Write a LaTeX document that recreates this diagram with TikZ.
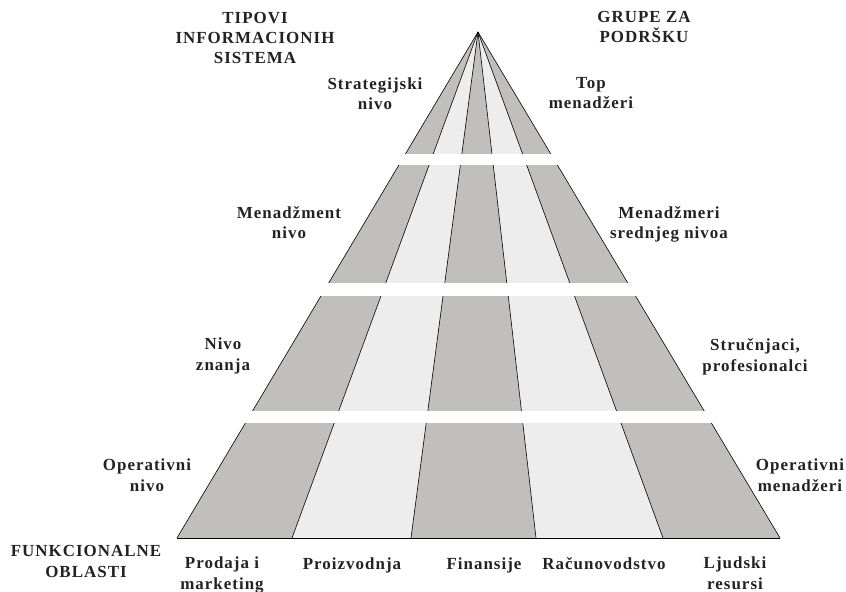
\documentclass[tikz,border=0pt]{standalone}
\usepackage{fontspec}
\setmainfont{Liberation Serif}[LetterSpace=6]
\definecolor{bandDark}{RGB}{192,191,190}
\definecolor{bandLight}{RGB}{237,237,237}
\definecolor{labelInk}{RGB}{34,34,34}
\begin{document}
\begin{tikzpicture}[x=1bp,y=-1bp,
  lbl/.style={font=\bfseries\fontsize{17}{20.5}\selectfont, text=labelInk,
              align=center, anchor=base, inner sep=0pt},
  divider/.style={draw=black, line width=0.6bp},
  gap/.style={fill=white}]
\useasboundingbox (0,0) rectangle (846,592);

% apex and the six base points of the five functional areas
\coordinate (apex) at (478,32);
\coordinate (b0) at (177,538);
\coordinate (b1) at (292,538);
\coordinate (b2) at (411,538);
\coordinate (b3) at (536,538);
\coordinate (b4) at (663,538);
\coordinate (b5) at (780,538);

% vertical sectors
\fill[bandDark]  (apex) -- (b0) -- (b1) -- cycle;
\fill[bandLight] (apex) -- (b1) -- (b2) -- cycle;
\fill[bandDark]  (apex) -- (b2) -- (b3) -- cycle;
\fill[bandLight] (apex) -- (b3) -- (b4) -- cycle;
\fill[bandDark]  (apex) -- (b4) -- (b5) -- cycle;

% sector boundaries
\foreach \i in {0,...,5} \draw[divider] (apex) -- (b\i);

% white gaps between the four levels
\fill[gap] (150,154) rectangle (820,165);
\fill[gap] (150,283) rectangle (820,296);
\fill[gap] (150,411) rectangle (820,423);

% base line
\draw[divider] (b0) -- (b5);

% headings (anchored at the baseline of their last line)
\node[lbl] (tipovi) at (255,64) {TIPOVI\\INFORMACIONIH\\SISTEMA};
\node[lbl] (grupe) at (644,43) {GRUPE ZA\\PODRŠKU};
\node[lbl] (funk) at (86,577) {FUNKCIONALNE\\OBLASTI};

% levels (left) and support groups (right)
\node[lbl] (strat) at (375,110) {Strategijski\\nivo};
\node[lbl] (top) at (591,109) {Top\\menadžeri};
\node[lbl] (menniv) at (289,239) {Menadžment\\nivo};
\node[lbl] (mensr) at (669,239) {Menadžmeri\\srednjeg nivoa};
\node[lbl] (znanje) at (223,370) {Nivo\\znanja};
\node[lbl] (strucni) at (755,371) {Stručnjaci,\\profesionalci};
\node[lbl] (operniv) at (147,491) {Operativni\\nivo};
\node[lbl] (opermen) at (800,491) {Operativni\\menadžeri};

% functional areas
\node[lbl] (prodaja) at (222,589) {Prodaja i\\marketing};
\node[lbl] (proiz) at (352,569) {Proizvodnja};
\node[lbl] (fin) at (484,569) {Finansije};
\node[lbl] (racun) at (604,569) {Računovodstvo};
\node[lbl] (ljudi) at (735,589) {Ljudski\\resursi};
\end{tikzpicture}
\end{document}
